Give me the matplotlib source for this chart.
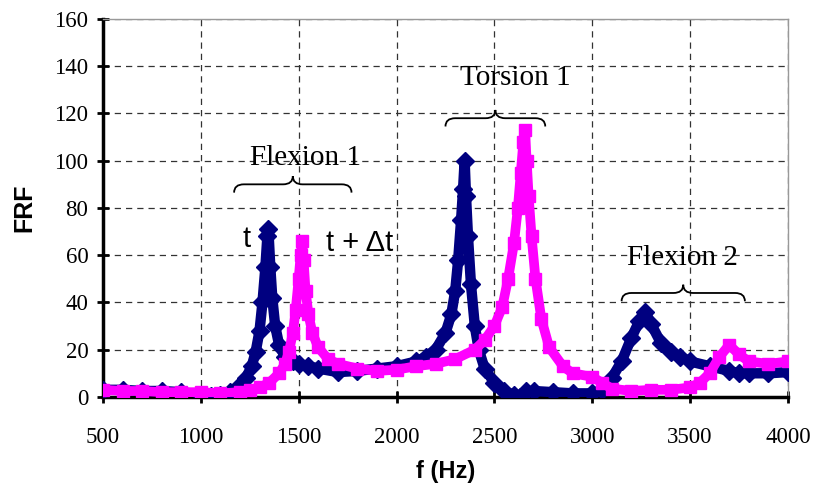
import matplotlib
matplotlib.use("Agg")
import matplotlib.pyplot as plt
from matplotlib.path import Path
from matplotlib.patches import PathPatch

# FRF curve at time t (navy diamonds)
f_t = [500, 600, 700, 800, 900, 1000, 1050, 1100, 1150, 1200, 1230, 1260, 1280,
       1300, 1315, 1330, 1340, 1345, 1355, 1365, 1380, 1400, 1430, 1470, 1500,
       1550, 1600, 1700, 1800, 1900, 2000, 2100, 2150, 2200, 2250, 2280, 2300,
       2315, 2330, 2340, 2348, 2355, 2365, 2380, 2400, 2420, 2450, 2500, 2550,
       2600, 2630, 2660, 2700, 2800, 2900, 3000, 3050, 3100, 3150, 3200, 3240,
       3270, 3300, 3350, 3400, 3450, 3500, 3600, 3700, 3750, 3800, 3900, 4000]
frf_t = [3, 3, 2.5, 2.5, 2, 1, 0.5, 1, 2, 5, 8, 13, 19,
         28, 40, 55, 68, 71, 55, 42, 30, 22, 17, 15, 14,
         13, 12, 10.5, 11, 12, 13, 15, 17, 20, 27, 35, 45,
         58, 75, 88, 100, 85, 68, 48, 30, 20, 12, 6, 2.5,
         0.8, 0, 2.5, 2.5, 2, 1.5, 1.5, 3, 8, 15, 25, 32,
         36, 31, 23, 19, 17, 15, 13, 11, 10, 10, 10, 10.5]

# FRF curve at time t + dt (magenta squares)
f_dt = [500, 600, 700, 800, 900, 1000, 1100, 1200, 1250, 1300, 1350, 1400, 1430,
        1450, 1470, 1485, 1500, 1510, 1518, 1525, 1535, 1550, 1570, 1600, 1650,
        1700, 1800, 1900, 2000, 2100, 2200, 2300, 2400, 2450, 2500, 2540, 2570,
        2600, 2620, 2635, 2648, 2656, 2665, 2675, 2690, 2710, 2740, 2780, 2850,
        2900, 3000, 3050, 3100, 3200, 3300, 3400, 3500, 3550, 3600, 3650, 3700,
        3750, 3800, 3900, 4000]
frf_dt = [3, 2.5, 2.5, 2, 2, 2, 1.5, 2, 3, 4, 6, 10, 14,
          19, 27, 37, 50, 60, 66, 58, 45, 35, 27, 21, 16,
          14, 12, 11, 11.5, 13, 14, 16, 20, 24, 30, 38, 50,
          65, 80, 95, 108, 113, 100, 85, 68, 50, 33, 21, 13,
          10, 8.5, 6, 3.5, 2.5, 3, 3, 4, 6, 10, 17, 22,
          18, 15, 14, 15]

# mode annotations: label, brace start, brace end, brace y, text x, text y
modes = [("Flexion 1", 1170, 1770, 90, 1535, 101),
         ("Torsion 1", 2250, 2760, 118, 2605, 135),
         ("Flexion 2", 3150, 3780, 44, 3460, 59)]


def brace(ax, x0, x1, y, h=3.5, w=50):
    xm = (x0 + x1) / 2
    verts = [(x0, y - h), (x0, y), (x0 + w, y),
             (xm - w, y), (xm, y), (xm, y + h),
             (xm, y), (xm + w, y),
             (x1 - w, y), (x1, y), (x1, y - h)]
    codes = [Path.MOVETO, Path.CURVE3, Path.CURVE3,
             Path.LINETO, Path.CURVE3, Path.CURVE3,
             Path.CURVE3, Path.CURVE3,
             Path.LINETO, Path.CURVE3, Path.CURVE3]
    ax.add_patch(PathPatch(Path(verts, codes), fill=False, lw=1.3,
                           edgecolor="black", clip_on=False, zorder=5))


fig = plt.figure(figsize=(8.14, 4.9), dpi=100)
ax = fig.add_axes([0.1265, 0.19, 0.8415, 0.7712])

ax.plot(f_t, frf_t, color="#000080", lw=7.5, marker="D", ms=9, zorder=3)
ax.plot(f_dt, frf_dt, color="#FF00FF", lw=7, marker="s", ms=8, zorder=4)

ax.set_xlim(500, 4000)
ax.set_ylim(0, 160)
ax.set_xticks(range(500, 4001, 500))
ax.set_yticks(range(0, 161, 20))
ax.grid(True, color="#333333", linestyle=(0, (5, 4)), lw=0.9)
ax.set_axisbelow(True)

for side in ["top", "right"]:
    ax.spines[side].set_color("#999999")
    ax.spines[side].set_linewidth(1)
for side in ["left", "bottom"]:
    ax.spines[side].set_linewidth(2.5)
ax.tick_params(direction="inout", length=9, width=2, labelsize=16.5)
for lab in ax.get_xticklabels() + ax.get_yticklabels():
    lab.set_fontfamily("Liberation Serif")
ax.tick_params(axis="x", pad=17)
ax.tick_params(axis="y", pad=6)

ax.set_xlabel("f (Hz)", fontsize=17, fontweight="bold",
              family="Liberation Sans", labelpad=9)
ax.set_ylabel("FRF", fontsize=18, fontweight="bold",
              family="Liberation Sans", labelpad=13)

for label, x0, x1, yb, xt, yt in modes:
    brace(ax, x0, x1, yb)
    ax.text(xt, yt, label, ha="center", va="center",
            fontsize=21, family="Liberation Serif")

ax.text(1236, 67, "t", ha="center", va="center", fontsize=21,
        family="Liberation Sans")
ax.text(1810, 65, "t + Δt", ha="center", va="center", fontsize=21,
        family="Liberation Sans")

fig.savefig("out.png", dpi=100)
